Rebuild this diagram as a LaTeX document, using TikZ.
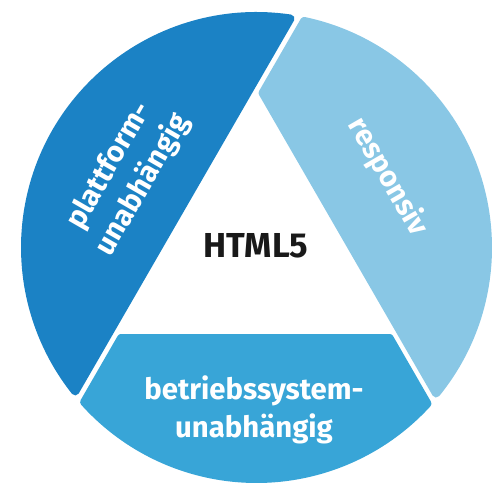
\documentclass[tikz,border=0pt]{standalone}
\usepackage{fontspec}
\setmainfont{Fira Sans}
\definecolor{platformblue}{HTML}{1B82C5}
\definecolor{responsiveblue}{HTML}{89C7E5}
\definecolor{systemblue}{HTML}{38A5D7}

\begin{document}
\begin{tikzpicture}[x=0.75pt,y=0.75pt,
	segment/.style={
		% fill and outline in one colour,
		% the round join gives the soft corners
		line width=6pt,
		line join=round
		},
	seglabel/.style={
		% white bold text on the segments
		text=white,
		font=\bfseries\fontsize{22}{29}\selectfont,
		align=center
		}]

	\useasboundingbox (-256.5,-235.5) rectangle (243.5,247.5);

	% the three segments of the circle
	\filldraw[segment,fill=platformblue,draw=platformblue] (81.54:231.5)
		arc[start angle=81.54,end angle=218.46,radius=231.5] -- cycle;
	\filldraw[segment,fill=responsiveblue,draw=responsiveblue] (6.06,154.5) -- (-39.12:231.5)
		arc[start angle=-39.12,end angle=78.12,radius=231.5] -- cycle;
	\filldraw[segment,fill=systemblue,draw=systemblue] (-135.39,-90.5) -- (133.08,-90.5) -- (-42.40:231.5)
		arc[start angle=-42.40,end angle=-138.12,radius=231.5] -- cycle;

	\node (html) [font=\bfseries\fontsize{26}{30}\selectfont,text=black!90] at (-0.5,2) {HTML5};
	\node (platform) [seglabel,rotate=60] at (-130,72) {plattform-\\unabhängig};
	\node (responsive) [seglabel,rotate=-60] at (131.5,70.5) {responsiv};
	\node (system) [seglabel] at (-2.5,-162.5) {betriebssystem-\\unabhängig};

\end{tikzpicture}
\end{document}
